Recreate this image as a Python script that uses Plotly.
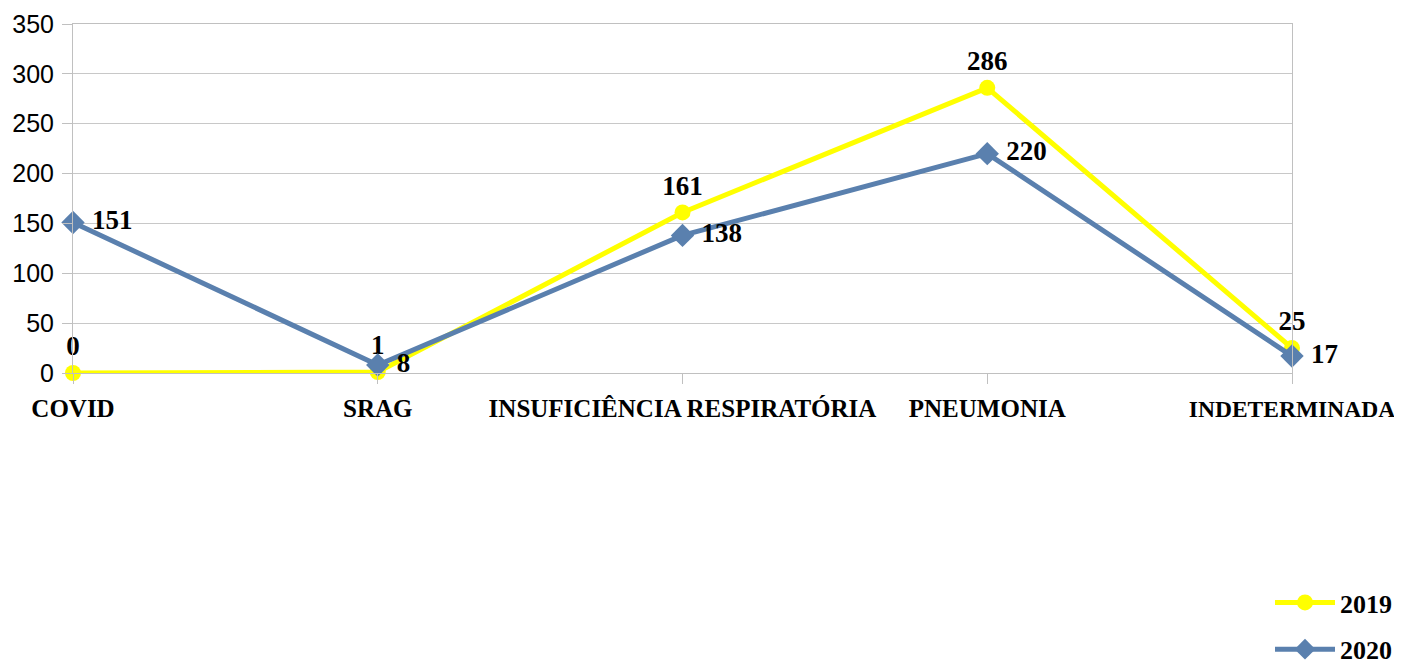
import plotly.graph_objects as go

categories = ["COVID", "SRAG", "INSUFICIÊNCIA RESPIRATÓRIA", "PNEUMONIA", "INDETERMINADA"]
values_2019 = [0, 1, 161, 286, 25]
values_2020 = [151, 8, 138, 220, 17]
y_ticks = [0, 50, 100, 150, 200, 250, 300, 350]

YELLOW = "#FFFF00"
BLUE = "#5A80AE"
label_font = dict(family="Liberation Serif", size=27, color="black")

# page body has an 8px margin; the figure is sized to fill the rest of the window
W, H = 1394, 657

tick_text = []
for c in categories:
    if c == "INDETERMINADA":
        tick_text.append(f"<b><span style='font-size:23.5px'>{c}</span></b>")
    else:
        tick_text.append(f"<b>{c}</b>")

fig = go.Figure()
fig.add_trace(go.Scatter(
    x=categories, y=values_2019, name="<b>2019</b>", mode="lines+markers+text",
    line=dict(color=YELLOW, width=5), marker=dict(symbol="circle", size=16, color=YELLOW),
    text=[f"<b>{v}</b>" for v in values_2019], textposition="top center",
    textfont=label_font, legendgroup="a", cliponaxis=False,
))
fig.add_trace(go.Scatter(
    x=categories, y=values_2020, name="<b>2020</b>", mode="lines+markers+text",
    line=dict(color=BLUE, width=5), marker=dict(symbol="diamond", size=18, color=BLUE),
    text=[f"<b> {v}</b>" for v in values_2020], textposition="middle right",
    textfont=label_font, legendgroup="b", cliponaxis=False,
))

fig.update_layout(
    width=W, height=H,
    margin=dict(l=65, r=110, t=16, b=292, autoexpand=False),
    plot_bgcolor="white", paper_bgcolor="white",
    showlegend=True,
    legend=dict(
        xref="container", yref="container",
        x=1262 / W, y=1 - 571 / H, xanchor="left", yanchor="top",
        font=dict(family="Liberation Serif", size=26, color="black"),
        tracegroupgap=10, itemwidth=60, bgcolor="rgba(0,0,0,0)",
    ),
    xaxis=dict(
        type="category", range=[0, 4], showgrid=False, automargin=False,
        showline=True, linecolor="#C0C0C0", linewidth=1, mirror=True,
        ticks="outside", ticklen=10, tickcolor="#C0C0C0",
        tickfont=dict(family="Liberation Serif", size=25, color="black"),
        ticklabelstandoff=3,
        tickvals=categories, ticktext=tick_text,
    ),
    yaxis=dict(
        range=[0, 350], tickvals=y_ticks, showgrid=True, gridcolor="#C8C8C8", gridwidth=1,
        showline=True, linecolor="#C0C0C0", linewidth=1, mirror=True, automargin=False,
        ticks="outside", ticklen=10, tickcolor="#C0C0C0",
        tickfont=dict(family="Liberation Sans", size=25, color="black"),
        ticklabelstandoff=3, zeroline=False,
    ),
)

fig.write_html("out.html")
